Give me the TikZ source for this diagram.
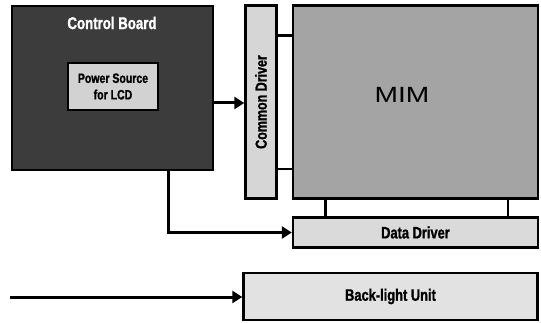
\documentclass[tikz,border=0pt]{standalone}
\usepackage{fontspec}
\setmainfont{Liberation Sans}
\newfontfamily\condb[FakeStretch=0.78,FakeBold=1.2]{Liberation Sans Bold}
\newfontfamily\wides[FakeStretch=1.28]{Liberation Sans}
\usetikzlibrary{arrows.meta}
\definecolor{cbfill}{HTML}{3C3C3C}
\definecolor{psfill}{HTML}{D2D2D2}
\definecolor{cdfill}{HTML}{D6D6D6}
\definecolor{mimfill}{HTML}{A4A4A4}
\definecolor{ddfill}{HTML}{DADADA}
\definecolor{blfill}{HTML}{E2E2E2}
\tikzset{
  blk/.style={draw=black, line width=2.4pt, inner sep=0pt, align=center},
  lbl/.style={font=\condb\fontsize{16.5}{18}\selectfont},
  link/.style={line width=2.8pt},
  arr/.style={line width=3pt, -{Triangle[length=10pt,width=12pt]}},
}
\begin{document}
\begin{tikzpicture}[x=1pt,y=-1pt]
\useasboundingbox (0,0) rectangle (541,323);
\node[blk, fill=cbfill, minimum width=201pt, minimum height=164pt] (cb) at (112.5,88) {};
\node[font=\condb\fontsize{17}{18}\selectfont, text=white] (cbt) at (112,23) {Control Board};
\node[blk, fill=psfill, minimum width=90pt, minimum height=47pt, font=\condb\fontsize{13.5}{16.5}\selectfont, text=black] (ps) at (113,86.5) {Power Source\\for LCD};
\node[blk, fill=cdfill, minimum width=31pt, minimum height=193pt] (cd) at (261,102) {};
\node[font=\condb\fontsize{16}{18}\selectfont, rotate=90] (cdt) at (cd.center) {Common Driver};
\node[blk, fill=mimfill, minimum width=245pt, minimum height=193pt] (mim) at (415.5,102) {};
\node[font=\wides\fontsize{22}{24}\selectfont] (mimt) at (402,95) {MIM};
\node[blk, fill=ddfill, minimum width=245pt, minimum height=30pt, lbl] (dd) at (415.5,232.5) {Data Driver};
\node[blk, fill=blfill, minimum width=294pt, minimum height=47pt, lbl] (bl) at (390.5,296.5) {Back-light Unit};
\coordinate (blsrc) at (10,297);
\coordinate (cbdown) at (168,232.5);
% connectors
\draw[arr] (cb.east |- 0,103) -- (cd.west |- 0,103);
\draw[link] (cd.east |- 0,35.5) -- (mim.west |- 0,35.5);
\draw[link] (cd.east |- 0,169) -- (mim.west |- 0,169);
\draw[link] (mim.south -| 325.5,0) -- (dd.north -| 325.5,0);
\draw[link] (mim.south -| 508,0) -- (dd.north -| 508,0);
\draw[arr] (cb.south -| cbdown) -- (cbdown) -- (dd.west);
\draw[arr] (blsrc) -- (bl.west |- blsrc);
\end{tikzpicture}
\end{document}
